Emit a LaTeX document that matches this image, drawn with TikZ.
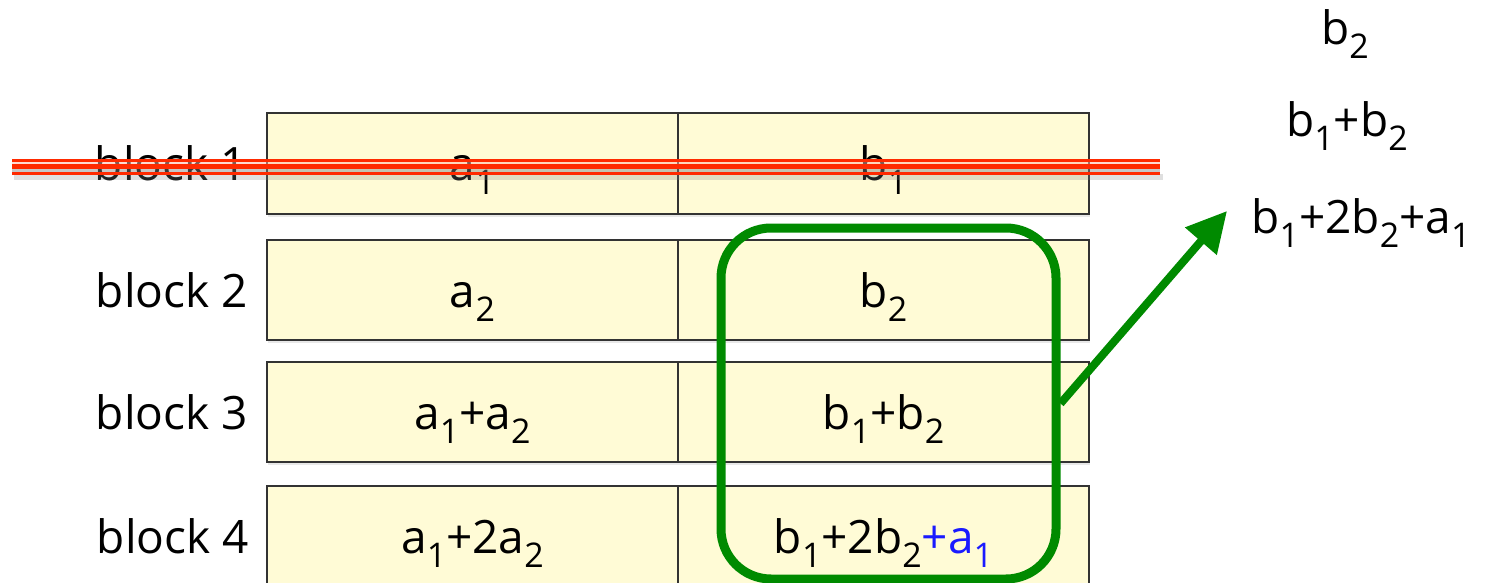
\documentclass[tikz,border=0pt]{standalone}
\usepackage{fontspec}
\setmainfont{Open Sans}
\usetikzlibrary{arrows.meta,shadows}
\definecolor{cellfill}{HTML}{FFFBD6}
\definecolor{celldraw}{HTML}{333333}
\definecolor{grpgreen}{HTML}{008A00}
\definecolor{strikered}{HTML}{FF2A00}
\definecolor{addblue}{HTML}{1A1AFF}
\newcommand{\sbs}[1]{\raisebox{-14pt}{\fontsize{34}{34}\selectfont #1}}
\begin{document}
\begin{tikzpicture}[x=1pt,y=-1pt,
  cell/.style={draw=celldraw, line width=1.4pt, fill=cellfill, minimum width=411pt,
    inner sep=0pt, text height=40pt, text depth=6pt,
    font=\fontsize{46}{46}\selectfont,
    drop shadow={opacity=0.18, shadow xshift=1pt, shadow yshift=-3pt}},
  lbl/.style={anchor=east, inner sep=0pt, text height=40pt, text depth=6pt,
    font=\fontsize{46}{46}\selectfont},
  res/.style={anchor=base, inner sep=0pt, font=\fontsize{46}{46}\selectfont},
  grp/.style={draw=grpgreen, line width=9pt, rounded corners=50pt, inner sep=0pt}]
\useasboundingbox (0,0) rectangle (1489,583);
% row 1
\node[cell, minimum height=101pt] (a1) at (472.5,163.5) {a\sbs{1}};
\node[cell, minimum height=101pt] (b1) at (883.5,163.5) {b\sbs{1}};
\node[lbl] (l1) at (247,163.5) {block 1};
% row 2
\node[cell, minimum height=100pt] (a2) at (472.5,290) {a\sbs{2}};
\node[cell, minimum height=100pt] (b2) at (883.5,290) {b\sbs{2}};
\node[lbl] (l2) at (248,290) {block 2};
% row 3
\node[cell, minimum height=100pt] (a3) at (472.5,412) {a\sbs{1}+a\sbs{2}};
\node[cell, minimum height=100pt] (b3) at (883.5,412) {b\sbs{1}+b\sbs{2}};
\node[lbl] (l3) at (248,412) {block 3};
% row 4
\node[cell, minimum height=100pt] (a4) at (472.5,536) {a\sbs{1}+2a\sbs{2}};
\node[cell, minimum height=100pt] (b4) at (883.5,536) {b\sbs{1}+2b\sbs{2}\textcolor{addblue}{+a\sbs{1}}};
\node[lbl] (l4) at (249,536) {block 4};
% strike-through of block 1
\fill[gray, opacity=0.25] (14,174) rectangle (1163,180);
\fill[gray, opacity=0.45] (12,169.3) rectangle (1160,172);
\fill[strikered!35, opacity=0.5] (12,161.8) rectangle (1160,164.3);
\fill[strikered] (12,159.5) rectangle (1160,161.8);
\fill[strikered] (12,164.3) rectangle (1160,169.3);
\fill[strikered] (12,172) rectangle (1160,175);
% green group
\node[grp, minimum width=335pt, minimum height=351pt] (g) at (888.5,403.5) {};
\coordinate (tip) at (1227,211);
\draw[grpgreen, line width=8pt, -{Triangle[length=40pt,width=40pt]}] (g.east) -- (tip);
% results
\node[res] (r1) at (1345,45) {b\sbs{2}};
\node[res] (r2) at (1347,137) {b\sbs{1}+b\sbs{2}};
\node[res] (r3) at (1361,233) {b\sbs{1}+2b\sbs{2}+a\sbs{1}};
\end{tikzpicture}
\end{document}
